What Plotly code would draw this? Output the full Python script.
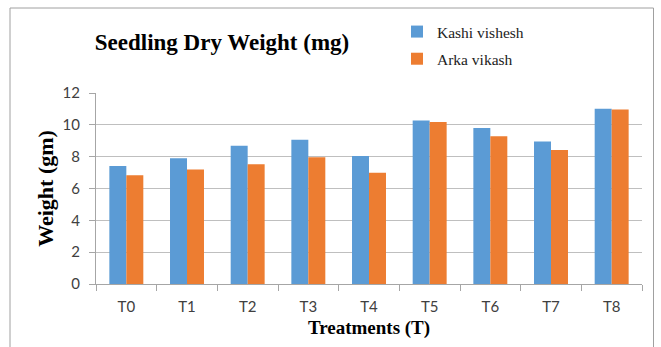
import plotly.graph_objects as go

categories = ["T0", "T1", "T2", "T3", "T4", "T5", "T6", "T7", "T8"]
kashi_vishesh = [7.42, 7.9, 8.69, 9.07, 8.04, 10.28, 9.8, 8.96, 11.01]
arka_vikash = [6.83, 7.2, 7.52, 7.96, 6.99, 10.18, 9.28, 8.42, 10.97]
y_ticks = [0, 2, 4, 6, 8, 10, 12]

W, H = 661, 347
L, R, T, B = 96, 19, 93, 63
pw, ph = W - L - R, H - T - B

def px(x):
    return (x - L) / pw

def py(y):
    return (H - B - y) / ph

fig = go.Figure()
fig.add_trace(go.Bar(x=categories, y=kashi_vishesh, name="Kashi vishesh",
                     marker=dict(color="#5B9BD5", line=dict(width=0)), legendgroup="a"))
fig.add_trace(go.Bar(x=categories, y=arka_vikash, name="Arka vikash",
                     marker=dict(color="#ED7D31", line=dict(width=0)), legendgroup="b"))

fig.update_layout(
    width=W, height=H,
    margin=dict(l=L, r=R, t=T, b=B),
    paper_bgcolor="white", plot_bgcolor="white",
    barmode="group", bargap=0.44, bargroupgap=0,
    showlegend=True,
    legend=dict(x=px(397), y=py(15), xanchor="left", yanchor="top",
                font=dict(family="Liberation Serif", size=15.5, color="#222"),
                tracegroupgap=4, itemwidth=30, bgcolor="rgba(0,0,0,0)"),
    title=dict(text="<b>Seedling Dry Weight (mg)</b>", x=222 / W, xanchor="center",
               y=1 - 42 / H, yanchor="middle",
               font=dict(family="Liberation Serif", size=23, color="black")),
    xaxis=dict(showline=True, linecolor="#A6A6A6", linewidth=1,
               ticks="outside", ticklen=6, tickcolor="#A6A6A6", tickson="boundaries",
               ticklabelstandoff=9,
               tickfont=dict(family="Lato", size=15, color="#404040"),
               title=dict(text="<b>Treatments (T)</b>", standoff=6,
                          font=dict(family="Liberation Serif", size=19, color="black")),
               showgrid=False),
    yaxis=dict(range=[0, 12], tickvals=y_ticks, showline=True, linecolor="#A6A6A6",
               linewidth=1, ticks="outside", ticklen=6, tickcolor="#A6A6A6",
               ticklabelstandoff=6,
               showgrid=True, gridcolor="#BFBFBF", gridwidth=1,
               tickfont=dict(family="Lato", size=15, color="#404040"),
               title=dict(text="<b>Weight (gm)</b>", standoff=2,
                          font=dict(family="Liberation Serif", size=22, color="black")),
               zeroline=False),
)

fig.add_shape(type="rect", xref="paper", yref="paper",
              x0=px(10), x1=px(653.5), y0=py(347.5), y1=py(8),
              line=dict(color="#A0A0A0", width=1), fillcolor="rgba(0,0,0,0)", layer="below")

fig.write_html("out.html")
